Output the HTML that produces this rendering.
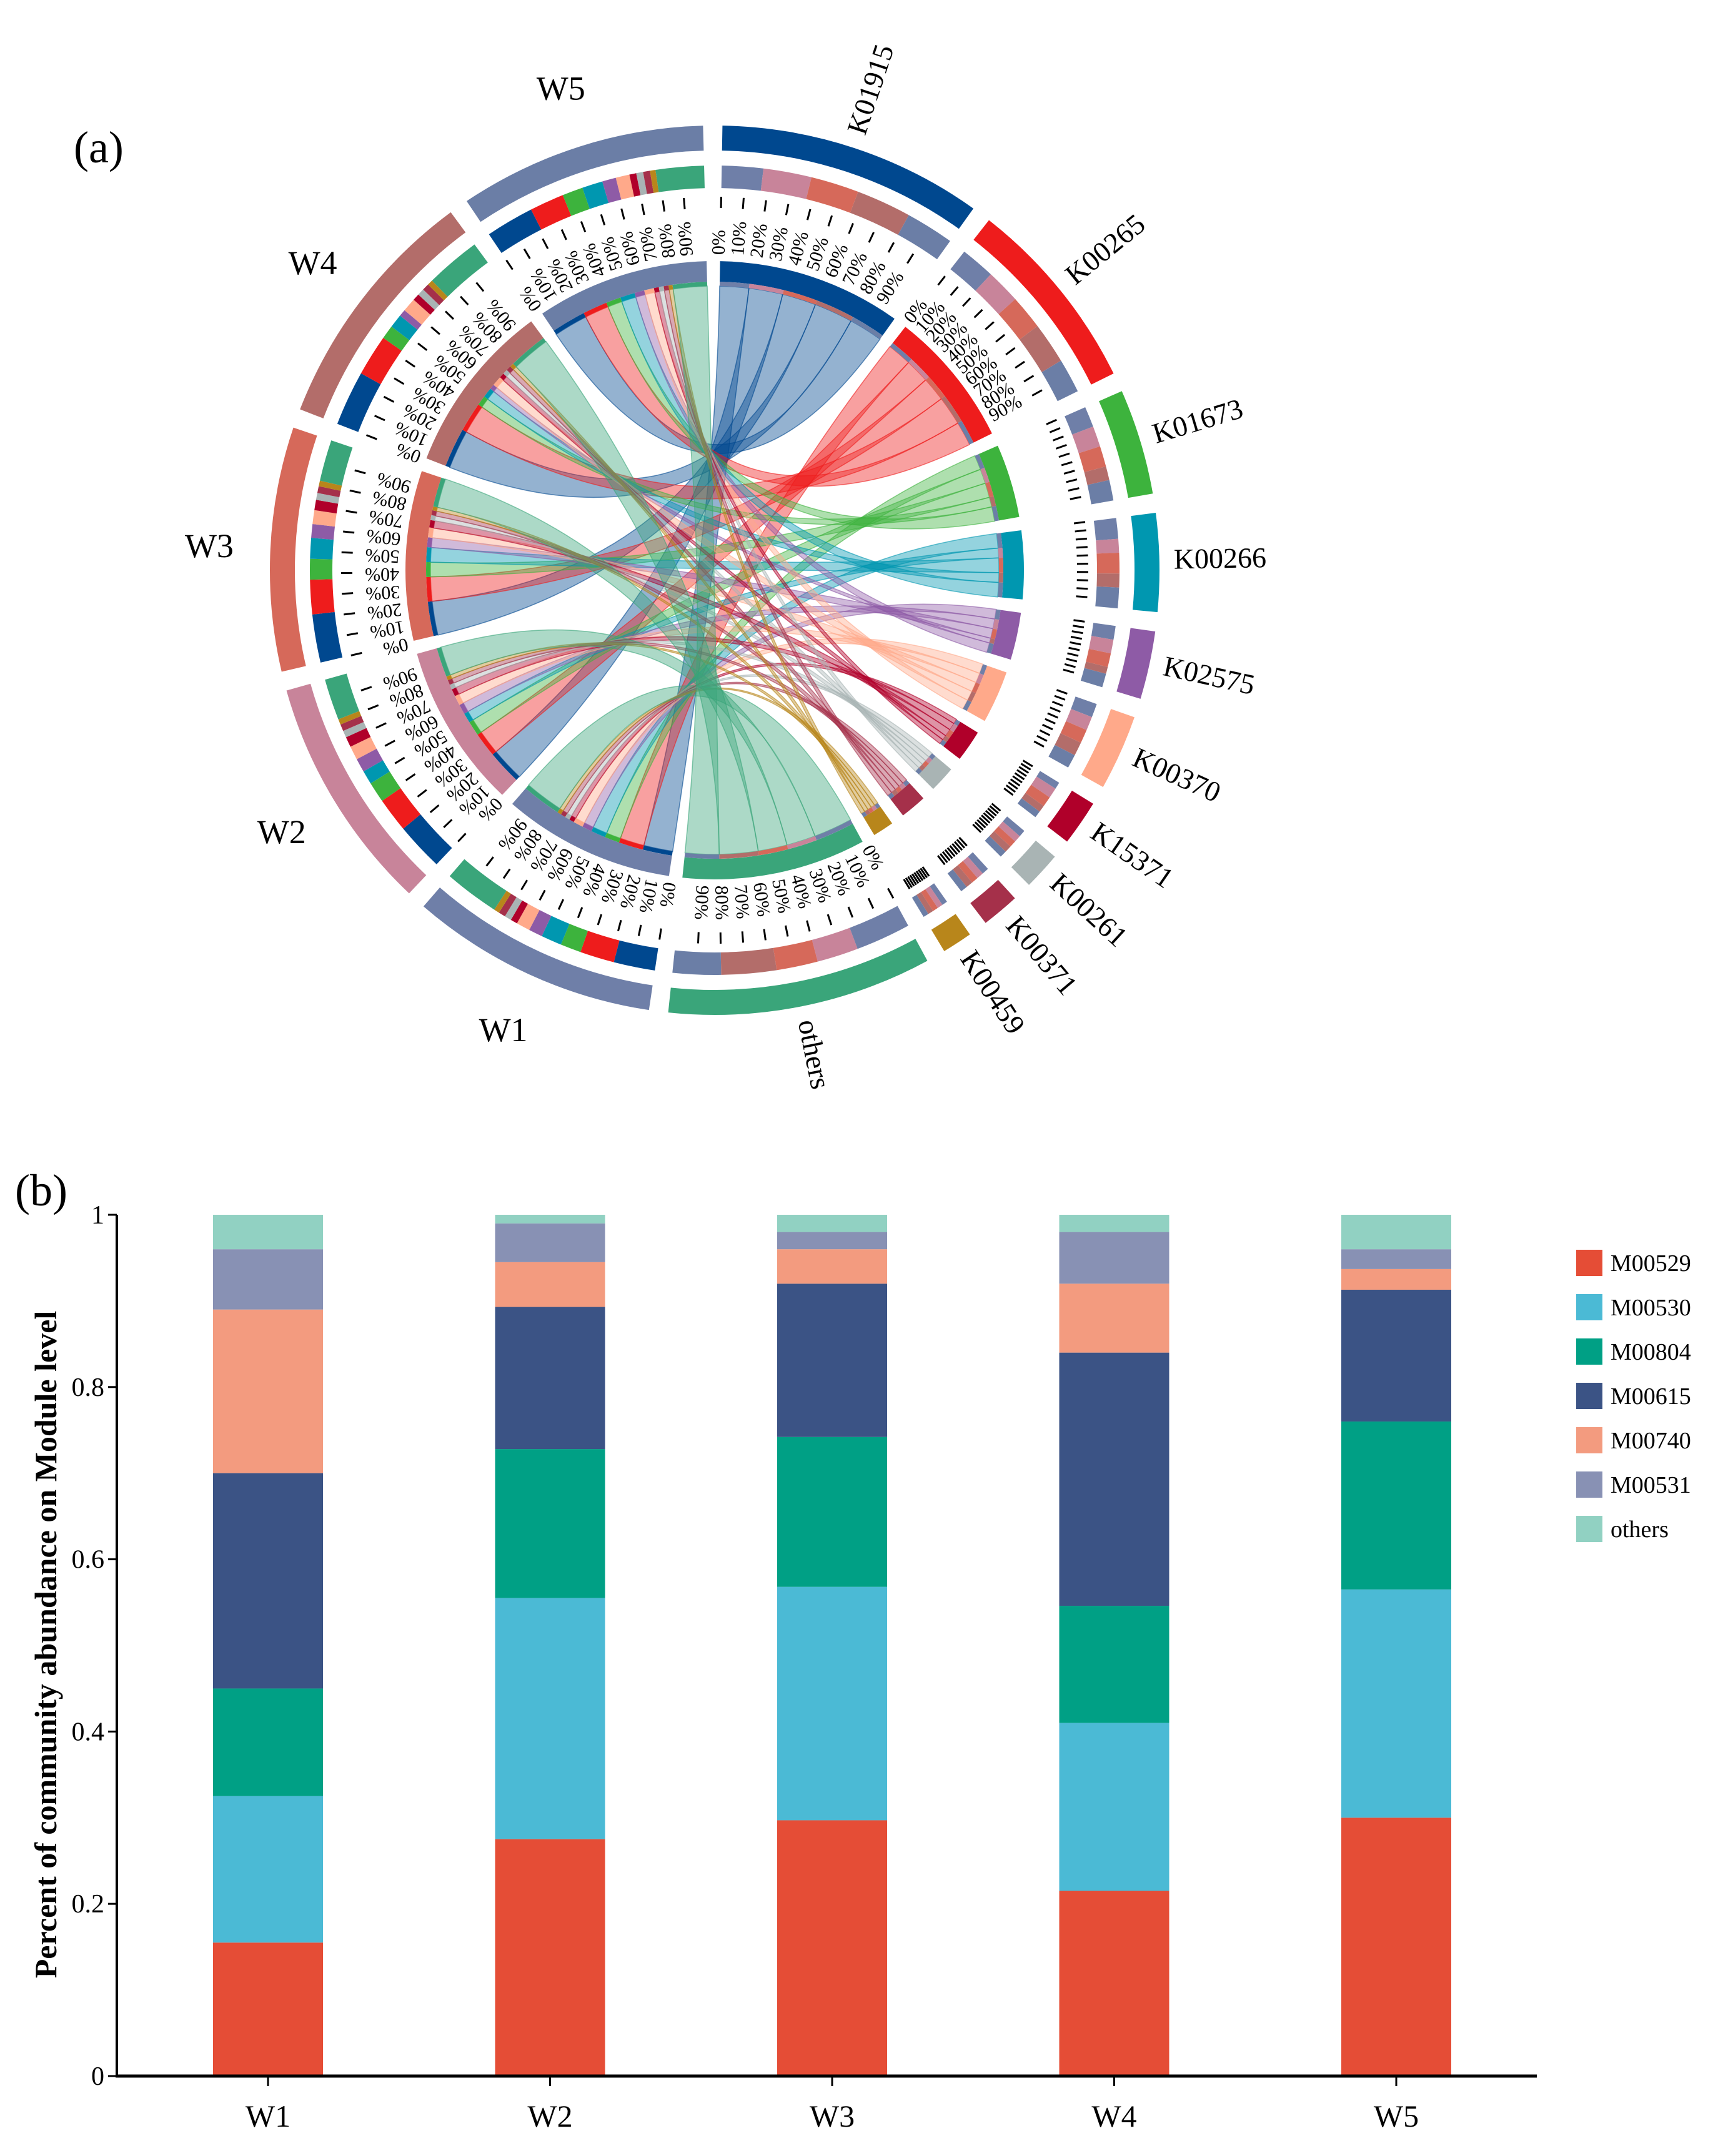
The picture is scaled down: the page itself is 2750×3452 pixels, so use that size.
<!DOCTYPE html>
<html><head><meta charset="utf-8"><style>
body{margin:0;background:#fff}
svg{display:block;font-family:"Liberation Serif",serif}
</style></head><body>
<svg id="fig" width="2750" height="3452" viewBox="0 0 2750 3452">
<text x="118" y="260" font-size="72">(a)</text>
<text x="24" y="1930" font-size="72">(b)</text>
<g id="chord"></g>
<g id="bars"></g>
</svg>
<script>
// ---------- chord data ----------
const samples=["W1","W2","W3","W4","W5"];
const sampleColors=["#6f7fa8","#c8849a","#d6695a","#b36d6a","#6b7ea6"];
const kos=["K01915","K00265","K01673","K00266","K02575","K00370","K15371","K00261","K00371","K00459","others"];
const koColors=["#00488f","#ee1c1c","#3db33d","#0097b0","#8e5ba6","#ffa98a","#b0002a","#a9b4b4","#a5304a","#b8861b","#3aa57a"];
const flowW1=[6,5,3,3,2,2,1,1,1,0.8,8];
const flowW2=[7,5,3,2,2,2,1.5,1,1,0.8,6];
const flowW3=[7,5,3,3,2,2,1.5,1,1,0.8,6];
const flowW4=[8,6,2,2,1,2,1,1,1,0.8,8];
const flowW5=[7,5,3,3,2,2,1,1,1,0.8,7];
const flows=[flowW1,flowW2,flowW3,flowW4,flowW5];

const NS="http://www.w3.org/2000/svg";
function mk(tag,attrs,parent){const e=document.createElementNS(NS,tag);for(const k in attrs)e.setAttribute(k,attrs[k]);parent.appendChild(e);return e;}
const cx=1144,cy=913;
const rad=d=>d*Math.PI/180;
const px=(a,r)=>cx+r*Math.sin(rad(a)), py=(a,r)=>cy-r*Math.cos(rad(a));
function sector(a0,a1,r0,r1){const l=(a1-a0)>180?1:0;
return `M${px(a0,r1)},${py(a0,r1)}A${r1},${r1} 0 ${l} 1 ${px(a1,r1)},${py(a1,r1)}L${px(a1,r0)},${py(a1,r0)}A${r0},${r0} 0 ${l} 0 ${px(a0,r0)},${py(a0,r0)}Z`;}
const chord=document.getElementById('chord');
const kTot=kos.map((k,j)=>flows.reduce((s,r)=>s+r[j],0));
const wTot=flows.map(r=>r.reduce((s,v)=>s+v,0));
const total=kTot.reduce((a,b)=>a+b,0)+wTot.reduce((a,b)=>a+b,0);
const gap=2.5, nseg=kos.length+samples.length;
const scale=(360-gap*nseg)/total;
const segs=[];let ang=1;
kos.forEach((k,j)=>{segs.push({name:k,color:koColors[j],a0:ang,a1:ang+kTot[j]*scale,type:'k',idx:j});ang+=kTot[j]*scale+gap;});
samples.forEach((w,i)=>{segs.push({name:w,color:sampleColors[i],a0:ang,a1:ang+wTot[i]*scale,type:'w',idx:i});ang+=wTot[i]*scale+gap;});
const wSub={},kSub={};
segs.forEach(s=>{let a=s.a0;
 if(s.type==='w'){flows[s.idx].forEach((v,j)=>{wSub[s.idx+'_'+j]=[a,a+v*scale];a+=v*scale;});}
 else{flows.forEach((r,i)=>{const v=r[s.idx];kSub[i+'_'+s.idx]=[a,a+v*scale];a+=v*scale;});}
});
const rR=455;
const rib=mk('g',{},chord);


flows.forEach((r,i)=>r.forEach((v,j)=>{
 const s=wSub[i+'_'+j],t=kSub[i+'_'+j];
 const d=`M${px(s[0],rR)},${py(s[0],rR)}A${rR},${rR} 0 0 1 ${px(s[1],rR)},${py(s[1],rR)}Q${cx},${cy} ${px(t[0],rR)},${py(t[0],rR)}A${rR},${rR} 0 0 1 ${px(t[1],rR)},${py(t[1],rR)}Q${cx},${cy} ${px(s[0],rR)},${py(s[0],rR)}Z`;
 const p=mk('path',{d,fill:koColors[j],'fill-opacity':0.42,stroke:koColors[j],'stroke-opacity':0.6,'stroke-width':1.5},rib);
 
 
}));
segs.forEach(s=>{
 const g=mk('g',{},chord);
 
 
 mk('path',{d:sector(s.a0,s.a1,462,495),fill:s.color},g);
 const subs=[];
 if(s.type==='w'){flows[s.idx].forEach((v,j)=>subs.push([wSub[s.idx+'_'+j],koColors[j]]));}
 else{flows.forEach((r,i)=>subs.push([kSub[i+'_'+s.idx],sampleColors[i]]));}
 subs.forEach(([a,c])=>{mk('path',{d:sector(a[0],a[1],455,462),fill:c},g);mk('path',{d:sector(a[0],a[1],612,648),fill:c},g);});
 mk('path',{d:sector(s.a0,s.a1,672,712),fill:s.color},g);
 const span=s.a1-s.a0;
 for(let t=0;t<10;t++){const a=s.a0+span*t/10;
  mk('line',{x1:px(a,580),y1:py(a,580),x2:px(a,598),y2:py(a,598),stroke:'#000','stroke-width':3},g);
  if(span>20){const tx=mk('text',{x:0,y:0,'font-size':30,transform:`translate(${px(a,505)},${py(a,505)}) rotate(${a-90})`,'dominant-baseline':'middle'},g);tx.textContent=(t*10)+'%';}
 }
 const m=(s.a0+s.a1)/2;
 if(s.type==='k'){
  const tx=mk('text',{x:0,y:0,'font-size':46,transform:`translate(${px(m,735)},${py(m,735)}) rotate(${m-90})`,'dominant-baseline':'middle'},g);tx.textContent=s.name;
  }
 else{const tx=mk('text',{x:px(m,810),y:py(m,810)+18,'font-size':54,'text-anchor':'middle'},g);tx.textContent=s.name;
  }
});

// ---------- bar data ----------
const barCats=["W1","W2","W3","W4","W5"];
const modules=["M00529","M00530","M00804","M00615","M00740","M00531","others"];
const modColors=["#e54d36","#4bbad5","#00a085","#3b5385","#f39b7f","#8891b4","#91d1c2"];
const M00529=[0.155,0.275,0.297,0.215,0.30];
const M00530=[0.170,0.280,0.271,0.195,0.265];
const M00804=[0.125,0.173,0.174,0.136,0.195];
const M00615=[0.250,0.165,0.178,0.294,0.153];
const M00740=[0.190,0.052,0.040,0.080,0.024];
const M00531=[0.070,0.045,0.020,0.060,0.023];
const others=[0.040,0.010,0.020,0.020,0.040];
const series=[M00529,M00530,M00804,M00615,M00740,M00531,others];
const yTicks=["0","0.2","0.4","0.6","0.8","1"];
const bars=document.getElementById('bars');
const x0=187,x1=2460,y0=3324,y1=1945;
const yS=v=>y0-(y0-y1)*v;
const xS=i=>429+i*451.5;
const bw=176;
barCats.forEach((c,i)=>{let acc=0;
 series.forEach((ser,k)=>{const v=ser[i];
  const r=mk('rect',{x:xS(i)-bw/2,y:yS(acc+v),width:bw,height:yS(acc)-yS(acc+v),fill:modColors[k]},bars);
  
  
  acc+=v;});
 mk('line',{x1:xS(i),y1:y0,x2:xS(i),y2:y0+16,stroke:'#000','stroke-width':3},bars);
 const t=mk('text',{x:xS(i),y:3405,'font-size':50,'text-anchor':'middle'},bars);t.textContent=c;
 
});
yTicks.forEach((l,i)=>{const v=i*0.2,y=yS(v);
 mk('line',{x1:x0-14,y1:y,x2:x0,y2:y,stroke:'#000','stroke-width':3},bars);
 const t=mk('text',{x:x0-20,y:y+14,'font-size':42,'text-anchor':'end'},bars);t.textContent=l;
 
});
const ya=mk('line',{x1:x0,y1:y1,x2:x0,y2:y0+2,stroke:'#000','stroke-width':4},bars);

const xa=mk('line',{x1:x0-2,y1:y0,x2:x1,y2:y0,stroke:'#000','stroke-width':5},bars);

const yt=mk('text',{x:0,y:0,'font-size':50,'font-weight':'bold','text-anchor':'middle',transform:'translate(90,2633) rotate(-90)'},bars);
yt.textContent='Percent of community abundance on Module level';

modules.forEach((m,k)=>{const y=2001+k*71;
 const g=mk('g',{},bars);
 
 
 mk('rect',{x:2523,y:y,width:42,height:42,fill:modColors[k]},g);
 const t=mk('text',{x:2578,y:y+34,'font-size':38},g);t.textContent=m;
});
</script>
</body></html>
